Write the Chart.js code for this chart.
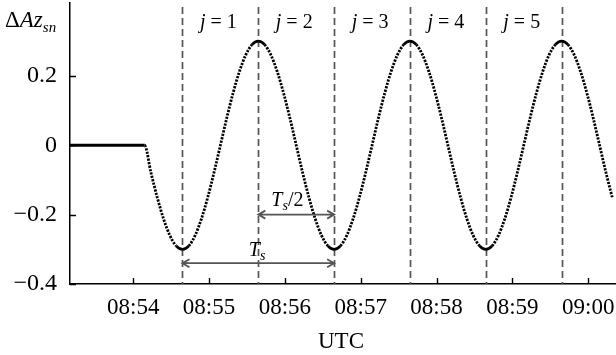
<!DOCTYPE html>
<html>
<head>
<meta charset="utf-8">
<script src="https://cdn.jsdelivr.net/npm/chart.js@4.4.1/dist/chart.umd.min.js"></script>
<style>
    html, body { margin: 0; padding: 0; background: #fff; }
    #wrap { width: 616px; height: 355px; }
</style>
</head>
<body>
<div id="wrap"><canvas id="azChart"></canvas></div>
<script>
// Time axis is in seconds after 08:54:00 UTC
const sampleTimes = [-50,
    9, 14, 19, 24, 29, 34, 39, 44, 49, 54, 59, 64, 69, 74, 79, 84, 89, 94, 99, 104, 109, 114, 119, 124,
    129, 134, 139, 144, 149, 154, 159, 164, 169, 174, 179, 184, 189, 194, 199, 204, 209, 214, 219, 224, 229, 234, 239, 244,
    249, 254, 259, 264, 269, 274, 279, 284, 289, 294, 299, 304, 309, 314, 319, 324, 329, 334, 339, 344, 349, 354, 359, 364,
    369, 374, 379];
const azValues = [0,
    0, -0.078, -0.15, -0.212, -0.26, -0.29, -0.3, -0.29, -0.26, -0.212, -0.15, -0.078, 0, 0.078, 0.15, 0.212, 0.26, 0.29, 0.3, 0.29, 0.26, 0.212, 0.15, 0.078,
    0, -0.078, -0.15, -0.212, -0.26, -0.29, -0.3, -0.29, -0.26, -0.212, -0.15, -0.078, 0, 0.078, 0.15, 0.212, 0.26, 0.29, 0.3, 0.29, 0.26, 0.212, 0.15, 0.078,
    0, -0.078, -0.15, -0.212, -0.26, -0.29, -0.3, -0.29, -0.26, -0.212, -0.15, -0.078, 0, 0.078, 0.15, 0.212, 0.26, 0.29, 0.3, 0.29, 0.26, 0.212, 0.15, 0.078,
    0, -0.078, -0.15];

const xTickValues = [0, 60, 120, 180, 240, 300, 360];
const xTickLabels = ['08:54', '08:55', '08:56', '08:57', '08:58', '08:59', '09:00'];
const yTickValues = [-0.4, -0.2, 0, 0.2];
const yTickLabels = ['\u22120.4', '\u22120.2', '0', '0.2'];

// extremes of the oscillation (dashed markers) and the interval names between them
const markerTimes = [39, 99, 159, 219, 279, 339];
const intervalNames = ['1', '2', '3', '4', '5'];

const SERIF = "'Liberation Serif', 'Times New Roman', serif";
const INK = '#000';
const GREY = '#555';

// draws a row of text pieces with different fonts; dy shifts subscripts
function drawRuns(ctx, runs, x, y, align) {
    let total = 0;
    runs.forEach(r => {
        ctx.font = r.font;
        r.w = ctx.measureText(r.text).width;
        total += r.w;
    });
    let cx = align === 'center' ? x - total / 2 : x;
    runs.forEach(r => {
        ctx.font = r.font;
        ctx.fillText(r.text, cx, y + (r.dy || 0));
        cx += r.w;
    });
}

function drawArrow(ctx, x1, x2, y) {
    const head = 7, half = 4;
    ctx.beginPath();
    ctx.moveTo(x1, y);
    ctx.lineTo(x2, y);
    ctx.moveTo(x1 + head, y - half);
    ctx.lineTo(x1, y);
    ctx.lineTo(x1 + head, y + half);
    ctx.moveTo(x2 - head, y - half);
    ctx.lineTo(x2, y);
    ctx.lineTo(x2 - head, y + half);
    ctx.stroke();
}

const overlay = {
    id: 'overlay',
    beforeDatasetsDraw(chart) {
        const { ctx, chartArea, scales: { x } } = chart;
        ctx.save();
        ctx.strokeStyle = GREY;
        ctx.lineWidth = 1.7;
        ctx.setLineDash([7, 4]);
        markerTimes.forEach(t => {
            const px = Math.round(x.getPixelForValue(t)) + 0.5;
            ctx.beginPath();
            ctx.moveTo(px, chartArea.top + 4);
            ctx.lineTo(px, chartArea.bottom);
            ctx.stroke();
        });
        ctx.restore();
    },
    afterDraw(chart) {
        const { ctx, chartArea, scales: { x, y } } = chart;
        ctx.save();

        // inward tick marks
        ctx.strokeStyle = INK;
        ctx.lineWidth = 1.4;
        ctx.beginPath();
        xTickValues.forEach(v => {
            const px = Math.round(x.getPixelForValue(v)) + 0.5;
            ctx.moveTo(px, chartArea.bottom);
            ctx.lineTo(px, chartArea.bottom - 6);
        });
        yTickValues.forEach(v => {
            const py = Math.round(y.getPixelForValue(v)) + 0.5;
            ctx.moveTo(chartArea.left, py);
            ctx.lineTo(chartArea.left + 6, py);
        });
        ctx.stroke();

        ctx.fillStyle = INK;
        ctx.textBaseline = 'alphabetic';

        // interval names j = 1 .. 5
        intervalNames.forEach((name, i) => {
            const mid = (x.getPixelForValue(markerTimes[i]) + x.getPixelForValue(markerTimes[i + 1])) / 2;
            drawRuns(ctx, [
                { text: 'j', font: 'italic 20px ' + SERIF },
                { text: ' = ' + name, font: '20px ' + SERIF }
            ], mid - 2, chartArea.top + 25, 'center');
        });

        // half period and period arrows
        ctx.strokeStyle = GREY;
        ctx.lineWidth = 1.8;
        drawArrow(ctx, x.getPixelForValue(markerTimes[1]), x.getPixelForValue(markerTimes[2]), y.getPixelForValue(-0.2));
        drawArrow(ctx, x.getPixelForValue(markerTimes[0]), x.getPixelForValue(markerTimes[2]), y.getPixelForValue(-0.34));

        drawRuns(ctx, [
            { text: 'T', font: 'italic 20px ' + SERIF },
            { text: 's', font: 'italic 14px ' + SERIF, dy: 4 },
            { text: '/2', font: '20px ' + SERIF }
        ], x.getPixelForValue(122), y.getPixelForValue(-0.175), 'center');
        drawRuns(ctx, [
            { text: 'T', font: 'italic 20px ' + SERIF },
            { text: 's', font: 'italic 14px ' + SERIF, dy: 4 }
        ], x.getPixelForValue(98), y.getPixelForValue(-0.319), 'center');

        // axis titles
        drawRuns(ctx, [
            { text: '\u0394', font: '23px ' + SERIF },
            { text: 'Az', font: 'italic 23px ' + SERIF },
            { text: 'sn', font: 'italic 15px ' + SERIF, dy: 5 }
        ], 5, 27, 'left');
        drawRuns(ctx, [{ text: 'UTC', font: '23px ' + SERIF }], 341, 348, 'center');

        ctx.restore();
    }
};

const points = sampleTimes.map((t, i) => ({ x: t, y: azValues[i] }));

new Chart(document.getElementById('azChart'), {
    type: 'line',
    data: {
        datasets: [{
            data: points,
            borderColor: INK,
            borderWidth: 2.8,
            borderDash: [2.2, 1.3],
            pointRadius: 0,
            cubicInterpolationMode: 'monotone',
            segment: {
                borderDash: ctx => {
                    const a = ctx.p0.parsed.y, b = ctx.p1.parsed.y;
                    if (a === 0 && b === 0) return [];
                    if (Math.abs(a) >= 0.29 && Math.abs(b) >= 0.29) return [];
                    return [2.2, 1.3];
                }
            }
        }]
    },
    options: {
        responsive: true,
        maintainAspectRatio: false,
        animation: false,
        layout: { padding: { top: 3, right: 0, bottom: 0, left: 0 } },
        plugins: {
            legend: { display: false },
            tooltip: { enabled: false }
        },
        scales: {
            x: {
                type: 'linear',
                min: -50,
                max: 382,
                afterFit: scale => {
                    scale.height = 71;
                    scale.paddingLeft = 0;
                    scale.paddingRight = 0;
                },
                afterBuildTicks: axis => { axis.ticks = xTickValues.map(v => ({ value: v })); },
                grid: { display: false, drawTicks: false },
                border: { display: true, color: INK, width: 1.5 },
                ticks: {
                    autoSkip: false,
                    maxRotation: 0,
                    padding: 10,
                    color: INK,
                    font: { family: SERIF, size: 23 },
                    callback: v => xTickLabels[xTickValues.indexOf(v)]
                }
            },
            y: {
                min: -0.4,
                max: 0.41,
                afterFit: scale => {
                    scale.width = 70;
                    scale.paddingTop = 0;
                    scale.paddingBottom = 0;
                },
                afterBuildTicks: axis => { axis.ticks = yTickValues.map(v => ({ value: v })); },
                grid: { display: false, drawTicks: false },
                border: { display: true, color: INK, width: 1.5 },
                ticks: {
                    padding: 13,
                    color: INK,
                    font: { family: SERIF, size: 24 },
                    callback: v => yTickLabels[yTickValues.indexOf(v)]
                }
            }
        }
    },
    plugins: [overlay]
});
</script>
</body>
</html>
